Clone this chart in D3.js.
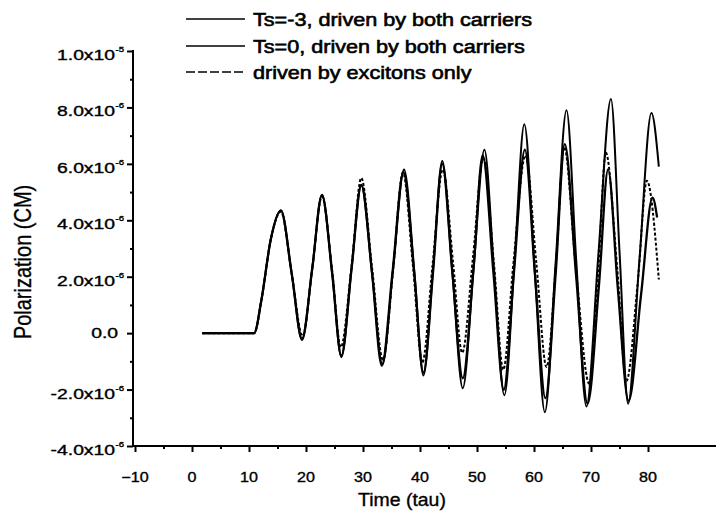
<!DOCTYPE html>
<html>
<head>
<meta charset="utf-8">
<script src="https://cdn.jsdelivr.net/npm/d3@7/dist/d3.min.js"></script>
<style>
  html, body { margin: 0; padding: 0; background: #fff; }
  svg { display: block; font-family: "Liberation Sans", Arial, sans-serif; }
</style>
</head>
<body>
<svg id="chart" width="717" height="515"></svg>
<script>
// Polarization (in units of 1e-6 CM) versus time (tau)
const seriesNames = [
  "Ts=-3, driven by both carriers",
  "Ts=0, driven by both carriers",
  "driven by excitons only"
];

const timeTs3 = [1.8, 10.9, 12.2, 13.8, 15.6, 17.5, 19.3, 21.1, 22.8, 24.6, 26.2, 28.0, 29.7, 31.6, 33.4, 35.3, 37.2, 39.0, 40.6, 42.3, 43.9, 45.7, 47.5, 49.4, 51.3, 53.0, 54.8, 56.6, 58.3, 60.1, 61.9, 63.8, 65.7, 67.4, 69.2, 71.3, 73.5, 75.0, 76.5, 78.5, 80.6, 81.9];
const polTs3  = [0, 0, 1.2, 3.3, 4.35, 2.1, -0.25, 2.3, 4.9, 2.1, -0.85, 2.3, 5.25, 2.1, -1.1, 2.3, 5.8, 2.2, -1.5, 2.3, 6.1, 2.1, -1.95, 2.3, 6.5, 2.2, -2.2, 2.6, 7.4, 2.3, -2.8, 2.5, 7.9, 2.6, -2.6, 2.8, 8.3, 2.9, -2.5, 2.6, 7.8, 5.9];

const timeTs0 = [1.8, 10.9, 12.2, 13.8, 15.6, 17.5, 19.3, 21.1, 22.8, 24.6, 26.2, 28.0, 29.7, 31.6, 33.3, 35.2, 37.1, 39.0, 40.6, 42.3, 43.9, 45.7, 47.5, 49.4, 51.0, 52.9, 54.7, 56.5, 58.4, 60.2, 62.0, 63.8, 65.4, 67.4, 69.4, 71.4, 73.0, 74.7, 76.6, 78.8, 80.8, 81.6];
const polTs0  = [0, 0, 1.2, 3.3, 4.35, 2.1, -0.2, 2.3, 4.9, 2.1, -0.8, 2.3, 5.25, 2.1, -1.15, 2.2, 5.7, 2.1, -1.4, 2.2, 6.0, 2.1, -1.6, 2.3, 6.3, 2.1, -2.0, 2.2, 6.5, 2.0, -2.3, 2.1, 6.7, 2.0, -2.5, 1.7, 5.8, 1.6, -2.4, 1.4, 4.8, 4.1];

const timeExc = [1.8, 10.9, 12.2, 13.8, 15.6, 17.5, 19.4, 21.1, 22.8, 24.6, 26.1, 28.0, 29.7, 31.6, 33.5, 35.3, 37.0, 38.8, 40.4, 42.2, 44.0, 45.8, 47.4, 49.3, 51.1, 53.0, 54.6, 56.4, 58.5, 60.4, 62.2, 63.9, 65.3, 67.3, 69.7, 71.3, 72.6, 74.6, 76.2, 78.2, 79.8, 81.9];
const polExc  = [0, 0, 1.2, 3.3, 4.3, 2.1, -0.1, 2.3, 4.85, 2.2, -0.5, 2.4, 5.5, 2.3, -0.95, 2.3, 5.7, 2.3, -1.05, 2.4, 5.8, 2.5, -0.7, 2.7, 6.2, 2.4, -1.3, 2.5, 6.3, 2.5, -1.2, 2.6, 6.6, 2.4, -1.8, 2.3, 6.4, 2.3, -1.7, 1.8, 5.4, 1.9];

const xMajorTicks = [-10, 0, 10, 20, 30, 40, 50, 60, 70, 80];
const xMinorTicks = [-5, 5, 15, 25, 35, 45, 55, 65, 75];
const yMajorTicks = [-4, -2, 0, 2, 4, 6, 8, 10];
const yMinorTicks = [-3, -1, 1, 3, 5, 7, 9];
const yTickMantissa = ["-4.0", "-2.0", "0.0", "2.0", "4.0", "6.0", "8.0", "1.0"];
const yTickExponent = ["-6", "-6", "", "-6", "-6", "-6", "-6", "-5"];

const svg = d3.select("#chart");

const x = d3.scaleLinear().domain([-10, 90]).range([135, 705]);
const y = d3.scaleLinear().domain([-4, 10]).range([446, 51]);

// Axis lines and ticks
const axisColor = "#000";
svg.append("line").attr("x1", 132).attr("x2", 716).attr("y1", y(-4)).attr("y2", y(-4))
  .attr("stroke", axisColor).attr("stroke-width", 2);
svg.append("line").attr("x1", 133).attr("x2", 133).attr("y1", y(-4) + 1).attr("y2", y(10) - 1)
  .attr("stroke", axisColor).attr("stroke-width", 2);

const xAxis = svg.append("g").attr("transform", `translate(0,${y(-4)})`)
  .call(d3.axisBottom(x).tickValues(xMajorTicks).tickSize(6).tickFormat(""));
const xMinor = svg.append("g").attr("transform", `translate(0,${y(-4)})`)
  .call(d3.axisBottom(x).tickValues(xMinorTicks).tickSize(3).tickFormat(""));
const yAxis = svg.append("g").attr("transform", "translate(133,0)")
  .call(d3.axisLeft(y).tickValues(yMajorTicks).tickSize(6).tickFormat(""));
const yMinor = svg.append("g").attr("transform", "translate(133,0)")
  .call(d3.axisLeft(y).tickValues(yMinorTicks).tickSize(3).tickFormat(""));

[xAxis, xMinor, yAxis, yMinor].forEach(g => {
  g.select(".domain").remove();
  g.selectAll(".tick line").attr("stroke", axisColor).attr("stroke-width", 2);
});

// Wide, slightly heavy lettering
function wideText(px, py, sx, str, size, anchor) {
  return svg.append("text")
    .attr("transform", `translate(${px},${py}) scale(${sx},1)`)
    .attr("text-anchor", anchor || "start")
    .attr("font-size", size)
    .attr("fill", "#000")
    .attr("stroke", "#000")
    .attr("stroke-width", 0.35)
    .text(str);
}

// x tick labels
xMajorTicks.forEach(v => {
  wideText(x(v), 482, 1.15, d3.format("d")(v), 14, "middle");
});

// y tick labels with superscript exponents
yMajorTicks.forEach((v, i) => {
  if (yTickExponent[i]) {
    wideText(115, y(v) + 9, 1.38, yTickMantissa[i] + "x10", 14, "end");
    wideText(115.5, y(v) + 1, 1.2, yTickExponent[i], 8, "start");
  } else {
    wideText(118, y(v) + 5, 1.38, yTickMantissa[i], 14, "end");
  }
});

// Axis titles
wideText(402, 506, 1.08, "Time (tau)", 18, "middle");

svg.append("text")
  .attr("transform", `translate(31,262) scale(1.2,1) rotate(-90)`)
  .attr("text-anchor", "middle")
  .attr("font-size", 20)
  .attr("fill", "#000")
  .attr("stroke", "#000")
  .attr("stroke-width", 0.3)
  .text("Polarization (CM)");

// Curves
const line = d3.line()
  .x(d => x(d[0]))
  .y(d => y(d[1]))
  .curve(d3.curveMonotoneX);

const series = [
  { name: seriesNames[0], t: timeTs3, v: polTs3, width: 2.0, dash: null },
  { name: seriesNames[1], t: timeTs0, v: polTs0, width: 2.3, dash: null },
  { name: seriesNames[2], t: timeExc, v: polExc, width: 2.0, dash: "3,2" }
];

const plot = svg.append("g");
series.forEach(s => {
  plot.append("path")
    .datum(s.t.map((t, i) => [t, s.v[i]]))
    .attr("fill", "none")
    .attr("stroke", "#000")
    .attr("stroke-width", s.width)
    .attr("stroke-dasharray", s.dash)
    .attr("stroke-linejoin", "round")
    .attr("d", line);
});

// Legend
const legendY = [19, 46, 72];
series.forEach((s, i) => {
  svg.append("line")
    .attr("x1", 186).attr("x2", 245)
    .attr("y1", legendY[i]).attr("y2", legendY[i])
    .attr("stroke", "#000")
    .attr("stroke-width", i === 2 ? 1.4 : 1.6)
    .attr("stroke-dasharray", i === 2 ? "9,3" : null);
  wideText(253, legendY[i] + 6.5, 1.2, s.name, 18, "start")
    .attr("stroke-width", 0.6);
});
</script>
</body>
</html>
